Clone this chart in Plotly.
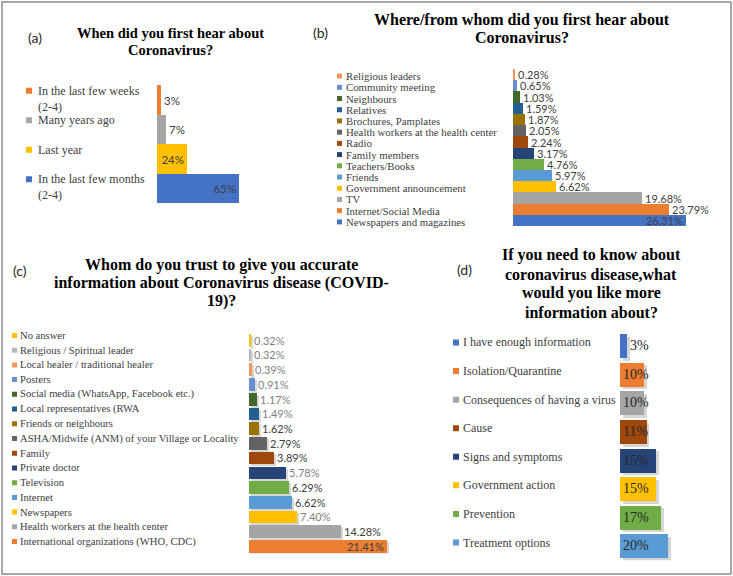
import plotly.graph_objects as go

# ---------------- data ----------------
A_CATS = ["In the last few weeks (2-4)", "Many years ago", "Last year", "In the last few months (2-4)"]
A_VALS = [3, 7, 24, 65]

B_CATS = ["Religious leaders", "Community meeting", "Neighbours", "Relatives", "Brochures, Pamplates",
          "Health workers at the health center", "Radio", "Family members", "Teachers/Books", "Friends",
          "Government announcement", "TV", "Internet/Social Media", "Newspapers and magazines"]
B_VALS = [0.28, 0.65, 1.03, 1.59, 1.87, 2.05, 2.24, 3.17, 4.76, 5.97, 6.62, 19.68, 23.79, 26.31]

C_CATS = ["No answer", "Religious / Spiritual leader", "Local healer / traditional healer", "Posters",
          "Social media (WhatsApp, Facebook etc.)", "Local representatives (RWA", "Friends or neighbours",
          "ASHA/Midwife (ANM) of your Village or Locality", "Family", "Private doctor", "Television",
          "Internet", "Newspapers", "Health workers at the health center",
          "International organizations (WHO, CDC)"]
C_VALS = [0.32, 0.32, 0.39, 0.91, 1.17, 1.49, 1.62, 2.79, 3.89, 5.78, 6.29, 6.62, 7.40, 14.28, 21.41]

D_CATS = ["I have enough information", "Isolation/Quarantine", "Consequences of having a virus", "Cause",
          "Signs and symptoms", "Government action", "Prevention", "Treatment options"]
D_VALS = [3, 10, 10, 11, 15, 15, 17, 20]

TITLES = {
    "a": ["When did you first hear about", "Coronavirus?"],
    "b": ["Where/from whom did you first hear about", "Coronavirus?"],
    "c": ["Whom do you trust to give you accurate", "information about Coronavirus disease (COVID-", "19)?"],
    "d": ["If you need to know about", "coronavirus disease,what", "would you like more", "information about?"],
}

# ---------------- styles ----------------
BLUE, ORANGE, GREY, YELLOW = "#4472C4", "#ED7D31", "#A5A5A5", "#FFC000"
LBLUE, GREEN, DBLUE, BROWN = "#5B9BD5", "#70AD47", "#264478", "#9E480E"
DGREY, OLIVE, MBLUE, DGREEN = "#636363", "#997300", "#255E91", "#43682B"
PBLUE, PORANGE = "#698ED0", "#F1975A"

A_COLORS = [ORANGE, GREY, YELLOW, BLUE]
B_COLORS = [PORANGE, PBLUE, DGREEN, MBLUE, OLIVE, DGREY, BROWN, DBLUE, GREEN, LBLUE, YELLOW, GREY, ORANGE, BLUE]
C_COLORS = [YELLOW, "#B7B7B7", PORANGE, PBLUE, DGREEN, MBLUE, OLIVE, DGREY, BROWN, DBLUE, GREEN, LBLUE,
            YELLOW, GREY, ORANGE]
D_COLORS = [BLUE, ORANGE, GREY, BROWN, DBLUE, YELLOW, GREEN, LBLUE]

DARK, LIGHT = "#404040", "#7F7F7F"
C_LABEL_COLORS = [LIGHT, LIGHT, LIGHT, LIGHT, LIGHT, LIGHT, DARK, DARK, DARK, LIGHT, DARK, DARK, LIGHT,
                  DARK, DARK]

W, H = 733, 576


def px(x):
    return x / W


def py(y):
    return 1 - y / H


SERIF = "Liberation Serif"
SANS = "Lato"

fig = go.Figure()

panels = [
    dict(cats=A_CATS, vals=A_VALS, colors=A_COLORS, ax="x", ay="y", xl=157, xr=300, yt=85, yb=203,
         scale=1.26, width=1.0, fmt="{:.0f}%",
         pos=["outside", "outside", "inside", "inside"], anchor="end", lcol=DARK,
         lfont=dict(family=SANS, size=11.5), shadow=None,
         leg_sq_x=26, leg_tx_x=36, leg_size=12, leg_sq=6, leg_shift=9),
    dict(cats=B_CATS, vals=B_VALS, colors=B_COLORS, ax="x2", ay="y2", xl=513, xr=722, yt=69, yb=226,
         scale=6.57, width=1.0, fmt="{:.2f}%",
         pos=["outside"] * 13 + ["inside"], anchor="end", lcol=DARK,
         lfont=dict(family=SANS, size=11), shadow=None,
         leg_sq_x=337, leg_tx_x=344, leg_size=10.8, leg_sq=5, leg_shift=-1.5),
    dict(cats=C_CATS, vals=C_VALS, colors=C_COLORS, ax="x3", ay="y3", xl=249, xr=420, yt=332.6, yb=553.4,
         scale=6.43, width=0.86, fmt="{:.2f}%",
         pos=["outside"] * 14 + ["inside"], anchor="end", lcol=C_LABEL_COLORS,
         lfont=dict(family=SANS, size=11), shadow=(2.0, 2.0),
         leg_sq_x=12, leg_tx_x=18, leg_size=10.6, leg_sq=5, leg_shift=4.5),
    dict(cats=D_CATS, vals=D_VALS, colors=D_COLORS, ax="x4", ay="y4", xl=620, xr=722, yt=331.7, yb=560.3,
         scale=2.42, width=0.84, fmt="{:.0f}%",
         pos=["outside"] + ["inside"] * 7, anchor="start", lcol="#262626",
         lfont=dict(family=SERIF, size=14), shadow=(2.5, 2.5),
         leg_sq_x=453, leg_tx_x=461, leg_size=12, leg_sq=6, leg_shift=3.5),
]

layout_axes = {}
shapes = []
annotations = []

for i, p in enumerate(panels):
    n = len(p["cats"])
    row_px = (p["yb"] - p["yt"]) / n
    if p["shadow"]:
        sx, sy = p["shadow"]
        fig.add_trace(go.Bar(
            y=p["cats"], x=p["vals"], base=sx / p["scale"], orientation="h", xaxis=p["ax"], yaxis=p["ay"],
            marker=dict(color="rgba(0,0,0,0.16)", line=dict(width=0)), width=p["width"],
            offset=-p["width"] / 2 + sy / row_px, showlegend=False, hoverinfo="skip",
        ))
        offset = -p["width"] / 2
    else:
        offset = None
    fig.add_trace(go.Bar(
        y=p["cats"], x=p["vals"], orientation="h", xaxis=p["ax"], yaxis=p["ay"],
        marker=dict(color=p["colors"], line=dict(width=0)), width=p["width"], offset=offset,
        text=[p["fmt"].format(v) for v in p["vals"]], textposition=p["pos"], textangle=0,
        textfont=dict(color=p["lcol"], **p["lfont"]), constraintext="none",
        insidetextanchor=p["anchor"], cliponaxis=False, showlegend=False, hoverinfo="skip",
    ))
    xname = "xaxis" if i == 0 else f"xaxis{i + 1}"
    yname = "yaxis" if i == 0 else f"yaxis{i + 1}"
    layout_axes[xname] = dict(domain=[px(p["xl"]), px(p["xr"])],
                              range=[0, (p["xr"] - p["xl"]) / p["scale"]],
                              anchor=p["ay"], visible=False, fixedrange=True)
    layout_axes[yname] = dict(domain=[py(p["yb"]), py(p["yt"])], range=[n - 0.5, -0.5],
                              type="category", anchor=p["ax"], visible=False, fixedrange=True)
    # legend: square + text, tied to each category row
    for cat, col in zip(p["cats"], p["colors"]):
        s = p["leg_sq"]
        sh = p["leg_shift"]
        shapes.append(dict(type="rect", xref="paper", xsizemode="pixel", xanchor=px(p["leg_sq_x"]),
                           x0=0, x1=s, yref=p["ay"], ysizemode="pixel", yanchor=cat,
                           y0=sh - s / 2, y1=sh + s / 2, fillcolor=col, line=dict(width=0)))
        if i == 0:
            txt = cat.replace(" (2-4)", "<br>(2-4)")
            annotations.append(dict(x=px(p["leg_tx_x"]), xref="paper", xanchor="left", y=cat,
                                    yref=p["ay"], yanchor="top", yshift=sh + 9, text=txt,
                                    showarrow=False, align="left",
                                    font=dict(family=SERIF, size=p["leg_size"], color="#404040")))
        else:
            annotations.append(dict(x=px(p["leg_tx_x"]), xref="paper", xanchor="left", y=cat,
                                    yref=p["ay"], yanchor="middle", yshift=sh, text=cat,
                                    showarrow=False, align="left",
                                    font=dict(family=SERIF, size=p["leg_size"], color="#404040")))

# titles
title_pos = {
    "a": dict(x=170, ys=[33, 50], size=14.5),
    "b": dict(x=522, ys=[20, 38], size=16),
    "c": dict(x=222, ys=[265, 283, 301], size=16),
    "d": dict(x=591, ys=[255, 274, 293, 312], size=16),
}
for k, lines in TITLES.items():
    tp = title_pos[k]
    for line, yy in zip(lines, tp["ys"]):
        annotations.append(dict(x=px(tp["x"]), y=py(yy), xref="paper", yref="paper", xanchor="center",
                                yanchor="middle", text=f"<b>{line}</b>", showarrow=False,
                                font=dict(family=SERIF, size=tp["size"], color="#000000")))

# panel letters
letter_pos = {"a": (35, 38), "b": (320, 33), "c": (20, 270), "d": (464, 269)}
for k, (xx, yy) in letter_pos.items():
    annotations.append(dict(x=px(xx), y=py(yy), xref="paper", yref="paper", xanchor="center",
                            yanchor="middle", text=f"({k})", showarrow=False,
                            font=dict(family=SANS, size=14, color="#262626")))

# outer frame
shapes.append(dict(type="rect", xref="paper", yref="paper", x0=px(2), x1=px(731), y0=py(574), y1=py(2),
                   line=dict(color="#8C8C8C", width=1.5), fillcolor="rgba(0,0,0,0)"))

fig.update_layout(width=W, height=H, margin=dict(l=0, r=0, t=0, b=0), paper_bgcolor="white",
                  plot_bgcolor="white", shapes=shapes, annotations=annotations, bargap=0,
                  barmode="overlay", **layout_axes)

fig.write_html("out.html", config={"displayModeBar": False},
               post_script="document.body.style.margin='0';document.body.style.overflow='hidden';")
